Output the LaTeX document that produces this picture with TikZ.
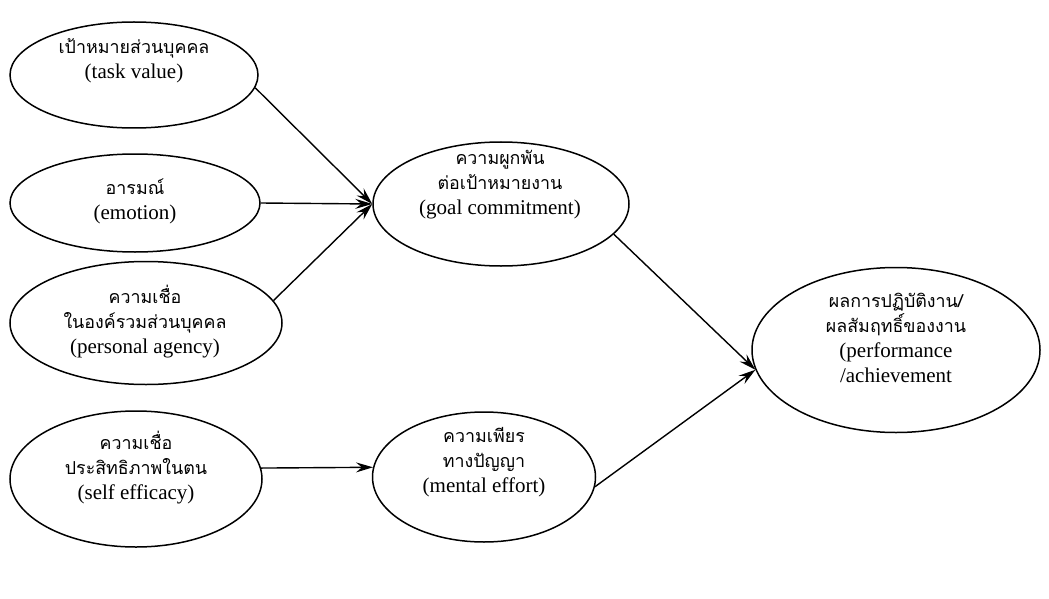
\documentclass[tikz,border=0pt]{standalone}
\usepackage{fontspec}
\setmainfont{Liberation Serif}
\newfontfamily\thaifont[Script=Thai,Scale=0.85]{Loma}
\usetikzlibrary{shapes.geometric,arrows.meta}
\begin{document}
\begin{tikzpicture}[x=1pt,y=-1pt,
  bubble/.style={ellipse,draw,line width=1.5pt,inner sep=0pt},
  caption/.style={inner sep=0pt,align=center,font=\fontsize{21}{25}\selectfont},
  link/.style={line width=1.4pt,-{Stealth[length=17pt,width=10pt,inset=6pt]}},
]
\useasboundingbox (0,0) rectangle (1049,599);

% factors on the left
\node[bubble,minimum width=248pt,minimum height=106pt] (tv) at (134,75) {};
\node[caption] (tvt) at (134,61) {{\thaifont เป้าหมายส่วนบุคคล}\\(task value)};

\node[bubble,minimum width=250pt,minimum height=98pt] (em) at (135,203) {};
\node[caption] (emt) at (135,201) {{\thaifont อารมณ์}\\(emotion)};

\node[bubble,minimum width=272pt,minimum height=123pt] (pa) at (146,323) {};
\node[caption] (pat) at (145,322)
  {{\thaifont ความเชื่อ}\\{\thaifont ในองค์รวมส่วนบุคคล}\\(personal agency)};

\node[bubble,minimum width=252pt,minimum height=136pt] (se) at (136,479) {};
\node[caption] (set) at (136,468)
  {{\thaifont ความเชื่อ}\\{\thaifont ประสิทธิภาพในตน}\\(self efficacy)};

% mediators
\node[bubble,minimum width=256pt,minimum height=124pt] (gc) at (501,204) {};
\node[caption] (gct) at (500,185)
  {{\thaifont ความผูกพัน}\\{\thaifont ต่อเป้าหมายงาน}\\(goal commitment)};

\node[bubble,minimum width=223pt,minimum height=130pt] (me) at (484,477) {};
\node[caption] (met) at (484,462)
  {{\thaifont ความเพียร}\\{\thaifont ทางปัญญา}\\(mental effort)};

% outcome
\node[bubble,minimum width=288pt,minimum height=165pt] (pf) at (896,350) {};
\node[caption] (pft) at (896,338)
  {{\thaifont ผลการปฏิบัติงาน/}\\{\thaifont ผลสัมฤทธิ์ของงาน}\\(performance\\/achievement};

% paths
\draw[link] (tv.-6) -- (gc.west);
\draw[link] (em.east) -- (gc.west);
\draw[link] (pa.10) -- (gc.west);
\draw[link] (se.5) -- (me.175);
\draw[link] (gc.-15) -- (pf.188);
\draw[link] (me.-5) -- (pf.188);
\end{tikzpicture}
\end{document}
